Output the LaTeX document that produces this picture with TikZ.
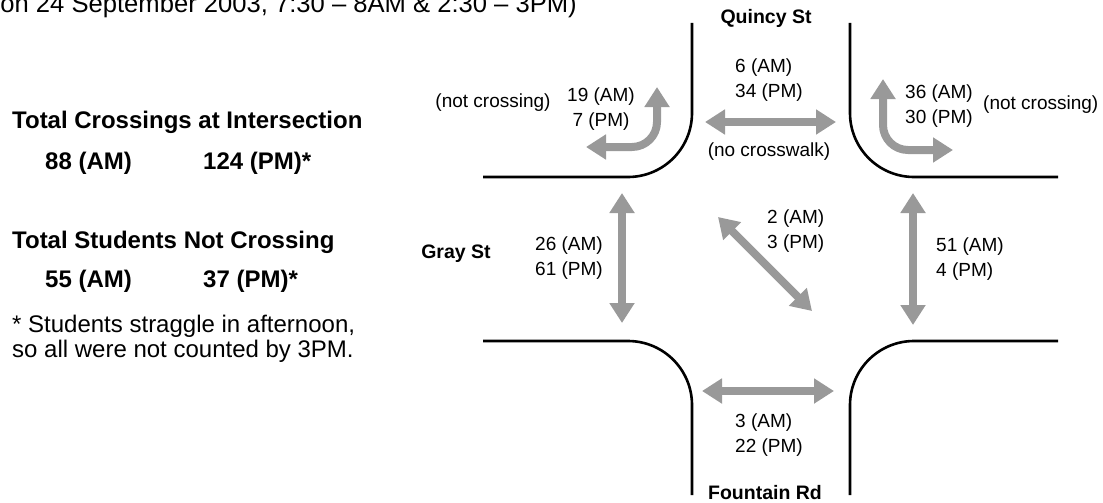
\documentclass[tikz,border=0pt]{standalone}
\usepackage{fontspec}
\setmainfont{Liberation Sans}
\usetikzlibrary{arrows.meta}
\definecolor{walkgray}{RGB}{153,153,153}
\tikzset{
 curb/.style={line width=2.6pt,rounded corners=64pt},
 walk/.style={draw=walkgray,line width=8pt,{Triangle[length=20pt,width=24pt]}-{Triangle[length=20pt,width=24pt]}},
 turnwalk/.style={walk,rounded corners=25pt},
 count/.style={inner sep=0,font=\fontsize{19}{25}\selectfont},
 streetname/.style={inner sep=0,anchor=base,font=\fontsize{19.5}{23}\selectfont\bfseries},
 total/.style={anchor=base west,inner sep=0,font=\fontsize{24}{28}\selectfont\bfseries},
 note/.style={anchor=base west,inner sep=0,font=\fontsize{24}{28}\selectfont}
}

\begin{document}
\begin{tikzpicture}[x=1pt,y=-1pt]
\path[use as bounding box] (0,0) rectangle (1103,503);
\node[anchor=base east,inner sep=0,font=\fontsize{25.6}{30}\selectfont] (title) at (577,13) {on 24 September 2003, 7:30 – 8AM \& 2:30 – 3PM)};
% totals on the left
\node[total] (crosshead) at (12,128) {Total Crossings at Intersection};
\node[total] (crossam) at (45,169) {88 (AM)};
\node[total] (crosspm) at (203,169) {124 (PM)*};
\node[total] (nothead) at (12,248) {Total Students Not Crossing};
\node[total] (notam) at (45,287) {55 (AM)};
\node[total] (notpm) at (203,287) {37 (PM)*};
\node[note] (note1) at (12,332) {* Students straggle in afternoon,};
\node[note] (note2) at (12,357) {so all were not counted by 3PM.};
% streets
\node[streetname] (quincy) at (766,24) {Quincy St};
\node[streetname] (gray) at (456,258) {Gray St};
\node[streetname] (fountain) at (765,499) {Fountain Rd};
\draw[curb] (692,23) -- (692,177) -- (483,177);
\draw[curb] (850,23) -- (850,177) -- (1058,177);
\draw[curb] (483,341) -- (692,341) -- (692,495);
\draw[curb] (1058,341) -- (850,341) -- (850,495);
% walking paths
\coordinate (N1) at (705,122);
\coordinate (N2) at (836,122);
\coordinate (W1) at (622,193);
\coordinate (W2) at (622,323);
\coordinate (E1) at (913,193);
\coordinate (E2) at (913,325);
\coordinate (D1) at (718,217);
\coordinate (D2) at (812,311);
\coordinate (S1) at (702,391);
\coordinate (S2) at (834,391);
\coordinate (TL1) at (657,87);
\coordinate (TLc) at (657,147);
\coordinate (TL2) at (586,147);
\coordinate (TR1) at (883,79);
\coordinate (TRc) at (883,150);
\coordinate (TR2) at (953,150);
\draw[walk] (N1) -- (N2);
\draw[walk] (W1) -- (W2);
\draw[walk] (E1) -- (E2);
\draw[walk] (D1) -- (D2);
\draw[walk] (S1) -- (S2);
\draw[turnwalk] (TL1) -- (TLc) -- (TL2);
\draw[turnwalk] (TR1) -- (TRc) -- (TR2);
% counts
\node[count] (tlnot) at (493,103) {(not crossing)};
\node[count,align=center] (tlcount) at (601,109) {19 (AM)\\7 (PM)};
\node[count,anchor=west,align=left] (topcount) at (735,80) {6 (AM)\\34 (PM)};
\node[count] (nowalk) at (769,152) {(no crosswalk)};
\node[count,anchor=west,align=left] (trcount) at (905,106) {36 (AM)\\30 (PM)};
\node[count,anchor=west] (trnot) at (983,105) {(not crossing)};
\node[count,anchor=west,align=left] (leftcount) at (535,258) {26 (AM)\\61 (PM)};
\node[count,anchor=west,align=left] (diagcount) at (767,231) {2 (AM)\\3 (PM)};
\node[count,anchor=west,align=left] (rightcount) at (936,259) {51 (AM)\\4 (PM)};
\node[count,anchor=west,align=left] (botcount) at (735,435) {3 (AM)\\22 (PM)};
\end{tikzpicture}
\end{document}
